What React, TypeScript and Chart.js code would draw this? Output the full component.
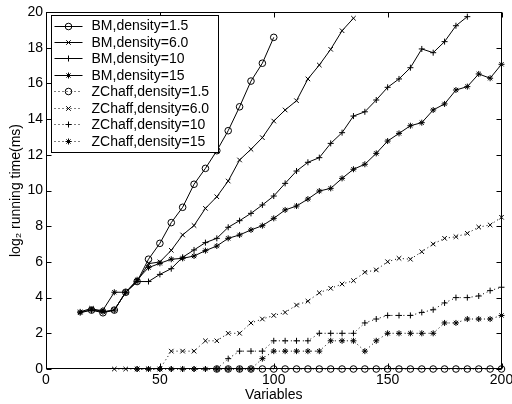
import React, { useEffect, useRef } from "react";
import { Chart, registerables } from "chart.js";

Chart.register(...registerables);

// ---- data ----
const variables = [15, 20, 25, 30, 35, 40, 45, 50, 55, 60, 65, 70, 75, 80, 85, 90, 95, 100, 105, 110, 115, 120, 125, 130, 135, 140, 145, 150, 155, 160, 165, 170, 175, 180, 185, 190, 195, 200];

const bmDensity1_5 = [null, 3.3, 3.15, 3.3, 4.3, 4.9, 6.15, 7.04, 8.2, 9.06, 10.35, 11.24, 12.23, 13.35, 14.69, 16.13, 17.13, 18.58];
const bmDensity6_0 = [3.2, 3.4, 3.2, 3.3, 4.3, 4.9, 5.9, 6.0, 6.65, 7.51, 8.04, 9.0, 9.65, 10.53, 11.71, 12.31, 12.96, 13.89, 14.51, 15.03, 16.25, 17.03, 17.91, 18.95, 19.65];
const bmDensity10 = [3.2, 3.3, 3.2, 3.3, 4.3, 4.9, 4.9, 5.3, 5.62, 6.26, 6.67, 7.08, 7.32, 7.94, 8.31, 8.72, 9.19, 9.69, 10.4, 11.09, 11.58, 11.84, 12.64, 13.24, 14.17, 14.41, 15.07, 15.78, 16.25, 16.88, 17.93, 17.72, 18.34, 19.23, 19.74];
const bmDensity15 = [3.15, 3.3, 3.3, 4.3, 4.3, 5.0, 5.68, 5.92, 6.15, 6.2, 6.33, 6.63, 6.89, 7.32, 7.51, 7.79, 8.03, 8.44, 8.91, 9.13, 9.52, 9.97, 10.12, 10.68, 11.19, 11.47, 12.08, 12.77, 13.2, 13.63, 13.8, 14.51, 14.85, 15.63, 15.82, 16.53, 16.29, 17.07];

const zchaffDensity1_5 = [null, null, null, null, null, null, null, null, null, null, null, null, 0, 0, 0, 0, 0, 0, 0, 0, 0, 0, 0, 0, 0, 0, 0, 0, 0, 0, 0, 0, 0, 0, 0, 0, 0, 0];
const zchaffDensity6_0 = [null, null, null, 0, 0, 0, 0, 0, 1.0, 1.0, 1.0, 1.58, 1.58, 2.0, 2.0, 2.58, 2.8, 3.0, 3.17, 3.58, 3.8, 4.27, 4.52, 4.76, 4.95, 5.42, 5.55, 6.01, 6.2, 6.15, 6.57, 7.0, 7.32, 7.41, 7.6, 7.95, 8.07, 8.5];
const zchaffDensity10 = [null, null, null, null, null, 0, 0, 0, 0, 0, 0, 0, 0, 0.58, 1, 1, 1, 1.58, 1.58, 1.58, 1.58, 2, 2, 2, 2, 2.58, 2.8, 3, 3, 3, 3.17, 3.32, 3.7, 4, 4, 4.09, 4.39, 4.58];
const zchaffDensity15 = [null, null, null, null, null, 0, 0, 0, 0, 0, 0, 0, 0, 0, 0, 0, 0.58, 1, 1, 1, 1, 1, 1.58, 1.58, 1.58, 1.0, 1.58, 2, 2, 2, 2, 2, 2.58, 2.58, 2.8, 2.8, 2.8, 3.0];

const seriesLabels = [
  "BM,density=1.5",
  "BM,density=6.0",
  "BM,density=10",
  "BM,density=15",
  "ZChaff,density=1.5",
  "ZChaff,density=6.0",
  "ZChaff,density=10",
  "ZChaff,density=15",
];
const seriesValues = [
  bmDensity1_5, bmDensity6_0, bmDensity10, bmDensity15,
  zchaffDensity1_5, zchaffDensity6_0, zchaffDensity10, zchaffDensity15,
];

const xTickValues = [0, 50, 100, 150, 200];
const yTickValues = [0, 2, 4, 6, 8, 10, 12, 14, 16, 18, 20];

const xTitle = "Variables";
const yTitle = "log\u2082 running time(ms)";

// ---- styles ----
const markerStyles = ["circle", "crossRot", "cross", "star", "circle", "crossRot", "cross", "star"];
const markerRadii: Record<string, number> = { circle: 3.3, crossRot: 3.2, cross: 3, star: 3 };
const FONT_FAMILY = "'Liberation Sans', Arial, Helvetica, sans-serif";

function toPoints(values: (number | null)[]) {
  return variables
    .map((x, i) => ({ x, y: values[i] }))
    .filter((p) => p.y !== null && p.y !== undefined);
}

function drawMarker(ctx: CanvasRenderingContext2D, style: string, x: number, y: number, r: number) {
  ctx.beginPath();
  if (style === "circle") {
    ctx.arc(x, y, r, 0, Math.PI * 2);
  }
  if (style === "cross" || style === "star") {
    ctx.moveTo(x - r, y);
    ctx.lineTo(x + r, y);
    ctx.moveTo(x, y - r);
    ctx.lineTo(x, y + r);
  }
  if (style === "crossRot" || style === "star") {
    const d = r * Math.SQRT1_2;
    ctx.moveTo(x - d, y - d);
    ctx.lineTo(x + d, y + d);
    ctx.moveTo(x - d, y + d);
    ctx.lineTo(x + d, y - d);
  }
  ctx.stroke();
}

const framePlugin = {
  id: "matlabFrame",
  afterDraw(chart: any) {
    const { ctx, chartArea } = chart;
    const { left, top, right, bottom } = chartArea;
    const xs = chart.scales.x;
    const ys = chart.scales.y;
    const L = Math.round(left) + 0.5;
    const R = Math.round(right) - 0.5;
    const T = Math.round(top) + 0.5;
    const B = Math.round(bottom) - 0.5;
    ctx.save();
    ctx.strokeStyle = "#000";
    ctx.lineWidth = 1;
    ctx.setLineDash([]);
    ctx.strokeRect(L, T, R - L, B - T);
    const tl = 5;
    ctx.beginPath();
    xTickValues.forEach((v) => {
      const px = Math.round(xs.getPixelForValue(v)) + 0.5;
      ctx.moveTo(px, B);
      ctx.lineTo(px, B - tl);
      ctx.moveTo(px, T);
      ctx.lineTo(px, T + tl);
    });
    yTickValues.forEach((v) => {
      const py = Math.round(ys.getPixelForValue(v)) + 0.5;
      ctx.moveTo(L, py);
      ctx.lineTo(L + tl, py);
      ctx.moveTo(R, py);
      ctx.lineTo(R - tl, py);
    });
    ctx.stroke();

    // legend box inside the axes
    const bx = Math.round(left) + 5.5;
    const by = Math.round(top) + 3.5;
    const bw = 167;
    const rowH = 16.45;
    const bh = 137;
    ctx.fillStyle = "#fff";
    ctx.fillRect(bx, by, bw, bh);
    ctx.strokeRect(bx, by, bw, bh);
    ctx.font = `14px ${FONT_FAMILY}`;
    ctx.textBaseline = "middle";
    ctx.textAlign = "left";
    seriesLabels.forEach((label, i) => {
      const cy = by + 10 + i * rowH;
      const dashed = i >= 4;
      ctx.strokeStyle = "#000";
      ctx.lineWidth = 1;
      ctx.setLineDash(dashed ? [1, 3] : []);
      ctx.beginPath();
      ctx.moveTo(bx + 3, Math.round(cy) + 0.5);
      ctx.lineTo(bx + 31, Math.round(cy) + 0.5);
      ctx.stroke();
      ctx.setLineDash([]);
      const style = markerStyles[i];
      drawMarker(ctx, style, bx + 17, Math.round(cy) + 0.5, markerRadii[style]);
      ctx.fillStyle = "#000";
      ctx.fillText(label, bx + 40, cy + 1);
    });
    ctx.restore();
  },
};

export default function App() {
  const canvasRef = useRef<HTMLCanvasElement | null>(null);

  useEffect(() => {
    if (!canvasRef.current) return;
    const datasets = seriesValues.map((vals, i) => {
      const style = markerStyles[i];
      const dashed = i >= 4;
      return {
        label: seriesLabels[i],
        data: toPoints(vals as (number | null)[]),
        borderColor: "#000",
        borderWidth: 1,
        borderDash: dashed ? [1, 3] : [],
        pointStyle: style,
        pointRadius: markerRadii[style],
        pointBorderColor: "#000",
        pointBackgroundColor: "rgba(0,0,0,0)",
        pointBorderWidth: 1,
        tension: 0,
        fill: false,
        clip: false as any,
      };
    });

    const tickFont = { family: FONT_FAMILY, size: 14 };
    const chart = new Chart(canvasRef.current, {
      type: "line",
      data: { datasets },
      options: {
        animation: false,
        responsive: true,
        maintainAspectRatio: false,
        layout: { padding: { top: 12, right: 10.5, left: 0, bottom: 0 } },
        plugins: {
          legend: { display: false },
          tooltip: { enabled: false },
          title: { display: false },
        },
        scales: {
          x: {
            type: "linear",
            min: 0,
            max: 200,
            afterBuildTicks: (s: any) => {
              s.ticks = xTickValues.map((v) => ({ value: v }));
            },
            ticks: { color: "#000", font: tickFont, padding: 3, maxRotation: 0, autoSkip: false },
            grid: { display: false, drawTicks: false },
            border: { display: false },
            title: { display: true, text: xTitle, color: "#000", font: tickFont, padding: { top: 0, bottom: 0 } },
            afterFit: (s: any) => {
              s.height = 35;
              s.paddingLeft = 0;
              s.paddingRight = 0;
            },
          },
          y: {
            type: "linear",
            min: 0,
            max: 20,
            afterBuildTicks: (s: any) => {
              s.ticks = yTickValues.map((v) => ({ value: v }));
            },
            ticks: { color: "#000", font: tickFont, padding: 3, autoSkip: false },
            grid: { display: false, drawTicks: false },
            border: { display: false },
            title: { display: true, text: yTitle, color: "#000", font: tickFont, padding: { top: 8, bottom: 0 } },
            afterFit: (s: any) => {
              s.width = 46;
              s.paddingTop = 0;
              s.paddingBottom = 0;
            },
          },
        },
      } as any,
      plugins: [framePlugin],
    });
    return () => chart.destroy();
  }, []);

  return (
    <div style={{ position: "fixed", left: 0, top: 0, width: 512, height: 404, background: "#fff" }}>
      <canvas ref={canvasRef} />
    </div>
  );
}
